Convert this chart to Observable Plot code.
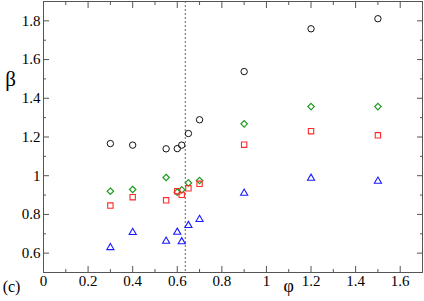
<!DOCTYPE html>
<html><head><meta charset="utf-8">
<script src="https://cdn.jsdelivr.net/npm/d3@7"></script>
<script src="https://cdn.jsdelivr.net/npm/@observablehq/plot@0.6"></script>
<style>body{margin:0;background:#fff} svg{display:block}</style>
</head><body><div id="chart"></div>
<script>
const phi = [0.3, 0.4, 0.55, 0.6, 0.62, 0.65, 0.7, 0.9, 1.2, 1.5];
const betaCircle = [1.166, 1.158, 1.139, 1.14, 1.158, 1.218, 1.289, 1.538, 1.759, 1.811];
const betaDiamond = [0.920, 0.929, 0.991, 0.915, 0.927, 0.963, 0.975, 1.268, 1.357, 1.357];
const betaSquare = [0.846, 0.889, 0.873, 0.920, 0.901, 0.935, 0.958, 1.160, 1.230, 1.209];
const betaTriangle = [0.629, 0.707, 0.662, 0.708, 0.659, 0.743, 0.774, 0.910, 0.987, 0.972];
const phiJ = 0.636;
const xMajor = [0, 0.2, 0.4, 0.6, 0.8, 1, 1.2, 1.4, 1.6];
const xMinor = [0.1, 0.3, 0.5, 0.7, 0.9, 1.1, 1.3, 1.5];
const yMajor = [0.6, 0.8, 1, 1.2, 1.4, 1.6, 1.8];
const yMinor = [0.7, 0.9, 1.1, 1.3, 1.5, 1.7];

const mk = (ys) => phi.map((x, i) => ({x, y: ys[i]}));
const fmt = d => d === 0 ? "0" : d === 1 ? "1" : String(d);
const axisCol = "#555";
const serif = "Liberation Serif";

const chart = Plot.plot({
  width: 424, height: 301,
  marginLeft: 43, marginRight: 2, marginTop: 1, marginBottom: 29,
  style: {fontFamily: serif, fontSize: "15px"},
  x: {domain: [0, 1.7], axis: null},
  y: {domain: [0.5, 1.9], axis: null},
  marks: [
    Plot.frame({stroke: axisCol}),
    Plot.axisX({anchor: "bottom", ticks: xMajor, tickSize: 0, tickPadding: 3, tickFormat: fmt, label: null, fontSize: 15, fontFamily: serif}),
    Plot.axisY({anchor: "left", ticks: yMajor, tickSize: 0, tickPadding: 3, tickFormat: fmt, label: null, fontSize: 15, fontFamily: serif}),
    Plot.axisX({anchor: "bottom", ticks: xMajor, tickSize: -6, tickFormat: () => "", label: null, stroke: axisCol}),
    Plot.axisX({anchor: "bottom", ticks: xMinor, tickSize: -3, tickFormat: () => "", label: null, stroke: axisCol}),
    Plot.axisX({anchor: "top", ticks: xMajor, tickSize: -6, tickFormat: () => "", label: null, stroke: axisCol}),
    Plot.axisX({anchor: "top", ticks: xMinor, tickSize: -3, tickFormat: () => "", label: null, stroke: axisCol}),
    Plot.axisY({anchor: "left", ticks: yMajor, tickSize: -6, tickFormat: () => "", label: null, stroke: axisCol}),
    Plot.axisY({anchor: "left", ticks: yMinor, tickSize: -3, tickFormat: () => "", label: null, stroke: axisCol}),
    Plot.axisY({anchor: "right", ticks: yMajor, tickSize: -6, tickFormat: () => "", label: null, stroke: axisCol}),
    Plot.axisY({anchor: "right", ticks: yMinor, tickSize: -3, tickFormat: () => "", label: null, stroke: axisCol}),
    Plot.ruleX([phiJ], {stroke: "#666", strokeDasharray: "2,2", strokeWidth: 1}),
    Plot.dot(mk(betaCircle), {x: "x", y: "y", symbol: "circle", r: 3.2, stroke: "#111", strokeWidth: 1, fill: "none"}),
    Plot.dot(mk(betaDiamond), {x: "x", y: "y", symbol: "diamond2", r: 2.9, stroke: "#1e9a1e", strokeWidth: 1.2, fill: "none"}),
    Plot.dot(mk(betaSquare), {x: "x", y: "y", symbol: "square2", r: 3.4, stroke: "#ff2a2a", strokeWidth: 1.1, fill: "none"}),
    Plot.dot(mk(betaTriangle), {x: "x", y: "y", symbol: "triangle2", r: 3.4, stroke: "#1a1aff", strokeWidth: 1.1, fill: "none"}),
    Plot.text(["β"], {x: 0, y: 1.5, dx: -33, fontSize: 21, fontFamily: serif, textAnchor: "middle", fill: "#000"}),
    Plot.text(["φ"], {x: 1.1, frameAnchor: "bottom", dy: 19, fontSize: 18, fontFamily: serif, textAnchor: "middle", fill: "#000"}),
    Plot.text(["(c)"], {frameAnchor: "bottom-left", dx: -32, dy: 19, fontSize: 16, fontFamily: serif, textAnchor: "middle", fill: "#000"})
  ]
});
document.getElementById("chart").appendChild(chart);
</script></body></html>
